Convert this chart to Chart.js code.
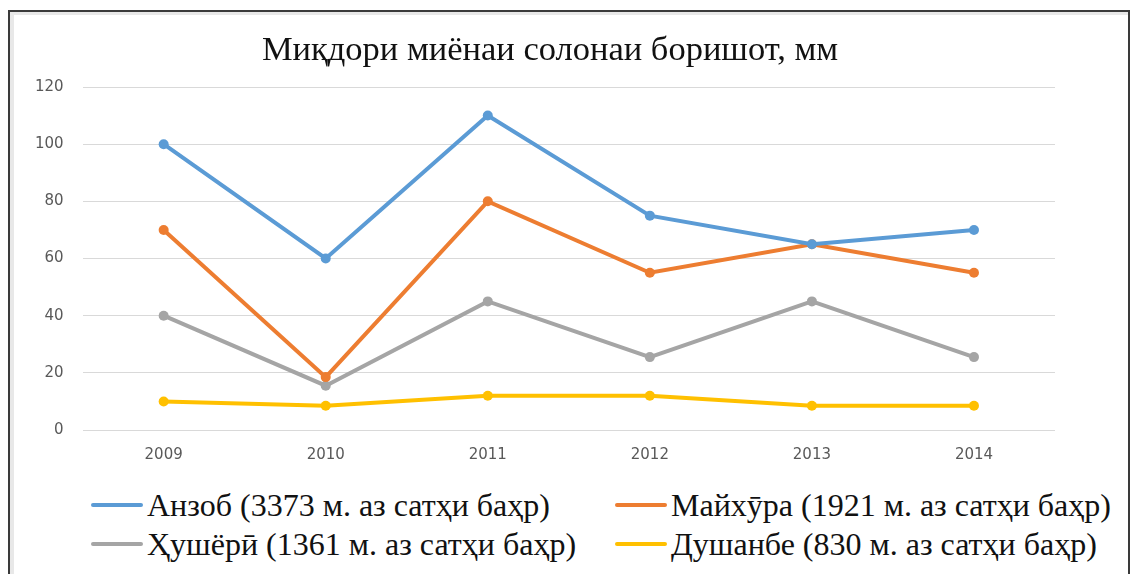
<!DOCTYPE html>
<html>
<head>
<meta charset="utf-8">
<script src="https://cdn.jsdelivr.net/npm/chart.js@4/dist/chart.umd.min.js"></script>
<style>
  html, body { margin: 0; padding: 0; background: #fff; }
  body { width: 1133px; height: 574px; position: relative; overflow: hidden; }
  .frame {
    position: absolute; left: 8px; top: 10px; width: 1118px; height: 600px;
    border: 2px solid #3a3a3a;
    box-shadow: inset 4px 3px 0 #e8e8e8;
  }
  #wrap { position: absolute; left: 0; top: 0; width: 1133px; height: 484px; }
  .title {
    position: absolute; left: 0; width: 1100px; top: 31px; text-align: center;
    font-family: "Liberation Serif", serif; font-size: 34.5px; line-height: 1; color: #111;
  }
  .legend { position: absolute; left: 0; top: 0; font-family: "Liberation Serif", serif; font-size: 32px; line-height: 1; color: #111; }
  .legend .item { position: absolute; display: flex; align-items: center; white-space: nowrap; height: 34px; }
  .legend .swatch { width: 52px; height: 4px; margin-right: 4px; border-radius: 2px; }
</style>
</head>
<body>
<div class="frame"></div>
<div id="wrap"><canvas id="chart"></canvas></div>
<div class="title" id="title"></div>
<div class="legend" id="legend"></div>
<script>
// Average annual precipitation by station, mm
const titleText = "Миқдори миёнаи солонаи боришот, мм";
const years = ["2009", "2010", "2011", "2012", "2013", "2014"];

const anzob = [100, 60, 110, 75, 65, 70];
const maikhura = [70, 18.5, 80, 55, 65, 55];
const hushyori = [40, 15.5, 45, 25.5, 45, 25.5];
const dushanbe = [10, 8.5, 12, 12, 8.5, 8.5];

const stationNames = [
  "Анзоб (3373 м. аз сатҳи баҳр)",
  "Майхӯра (1921 м. аз сатҳи баҳр)",
  "Ҳушёрӣ (1361 м. аз сатҳи баҳр)",
  "Душанбе (830 м. аз сатҳи баҳр)",
];
const colors = ["#5b9bd5", "#ed7d31", "#a5a5a5", "#ffc000"];
const yTicks = [0, 20, 40, 60, 80, 100, 120];

// legend slots: [left, centerY]
const legendPos = [[91, 505], [615, 505], [91, 544], [615, 544]];

const series = [anzob, maikhura, hushyori, dushanbe];

document.getElementById("title").textContent = titleText;

const datasets = series.map((vals, i) => ({
  label: stationNames[i],
  data: vals,
  borderColor: colors[i],
  backgroundColor: colors[i],
  borderWidth: 4,
  pointRadius: 5,
  pointHoverRadius: 5,
  pointBorderWidth: 0,
  tension: 0,
}));

const legendEl = document.getElementById("legend");
datasets.forEach((ds, i) => {
  const item = document.createElement("div");
  item.className = "item";
  item.style.left = legendPos[i][0] + "px";
  item.style.top = (legendPos[i][1] - 17) + "px";
  item.innerHTML = `<span class="swatch" style="background:${ds.borderColor}"></span><span>${ds.label}</span>`;
  legendEl.appendChild(item);
});

new Chart(document.getElementById("chart"), {
  type: "line",
  data: { labels: years, datasets },
  options: {
    responsive: true,
    maintainAspectRatio: false,
    animation: false,
    layout: { padding: { top: 87, left: 16, right: 78, bottom: 12 } },
    plugins: {
      legend: { display: false },
      title: { display: false },
      tooltip: { enabled: false },
    },
    scales: {
      x: {
        offset: true,
        grid: { display: false },
        border: { display: false },
        ticks: { color: "#595959", font: { family: "DejaVu Sans", size: 15 }, padding: 8 },
      },
      y: {
        min: 0,
        max: 120,
        afterBuildTicks: (s) => { s.ticks = yTicks.map((v) => ({ value: v })); },
        grid: { color: "#d9d9d9", lineWidth: 1, drawTicks: false },
        border: { display: false },
        ticks: { color: "#595959", font: { family: "DejaVu Sans", size: 15 }, padding: 19 },
      },
    },
  },
});
</script>
</body>
</html>
